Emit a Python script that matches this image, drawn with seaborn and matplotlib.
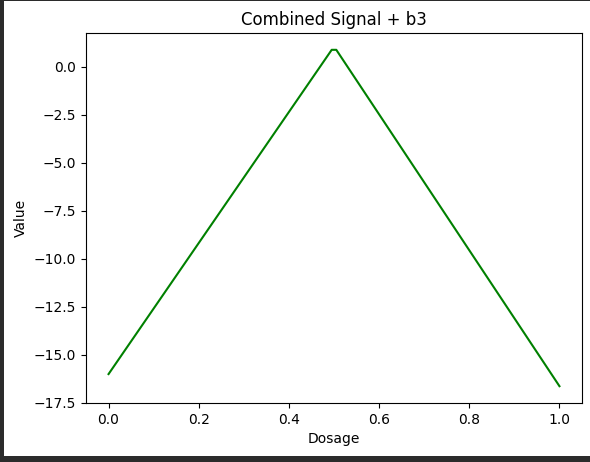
import pandas as pd
import seaborn as sns
import matplotlib.pyplot as plt
from matplotlib.patches import Rectangle

# Vertices of the combined signal
dosage = [0.0, 0.4949, 0.5051, 1.0]
value = [-16.0, 0.88, 0.88, -16.63]

df = pd.DataFrame({'Dosage': dosage, 'Value': value})

fig = plt.figure(figsize=(5.9, 4.62), dpi=100, facecolor='#2b2b2b')
# white canvas inside the dark screenshot frame
fig.add_artist(Rectangle((4 / 590, 6 / 462), 586 / 590, 455 / 462,
                         transform=fig.transFigure, facecolor='white',
                         edgecolor='none', zorder=-10))
ax = fig.add_axes([86 / 590, 59 / 462, 496 / 590, 370 / 462])

sns.lineplot(data=df, x='Dosage', y='Value', color='green', ax=ax)

ax.set_title('Combined Signal + b3')
ax.set_xlabel('Dosage')
ax.set_ylabel('Value')

fig.savefig('out.png', dpi=100, facecolor=fig.get_facecolor())
